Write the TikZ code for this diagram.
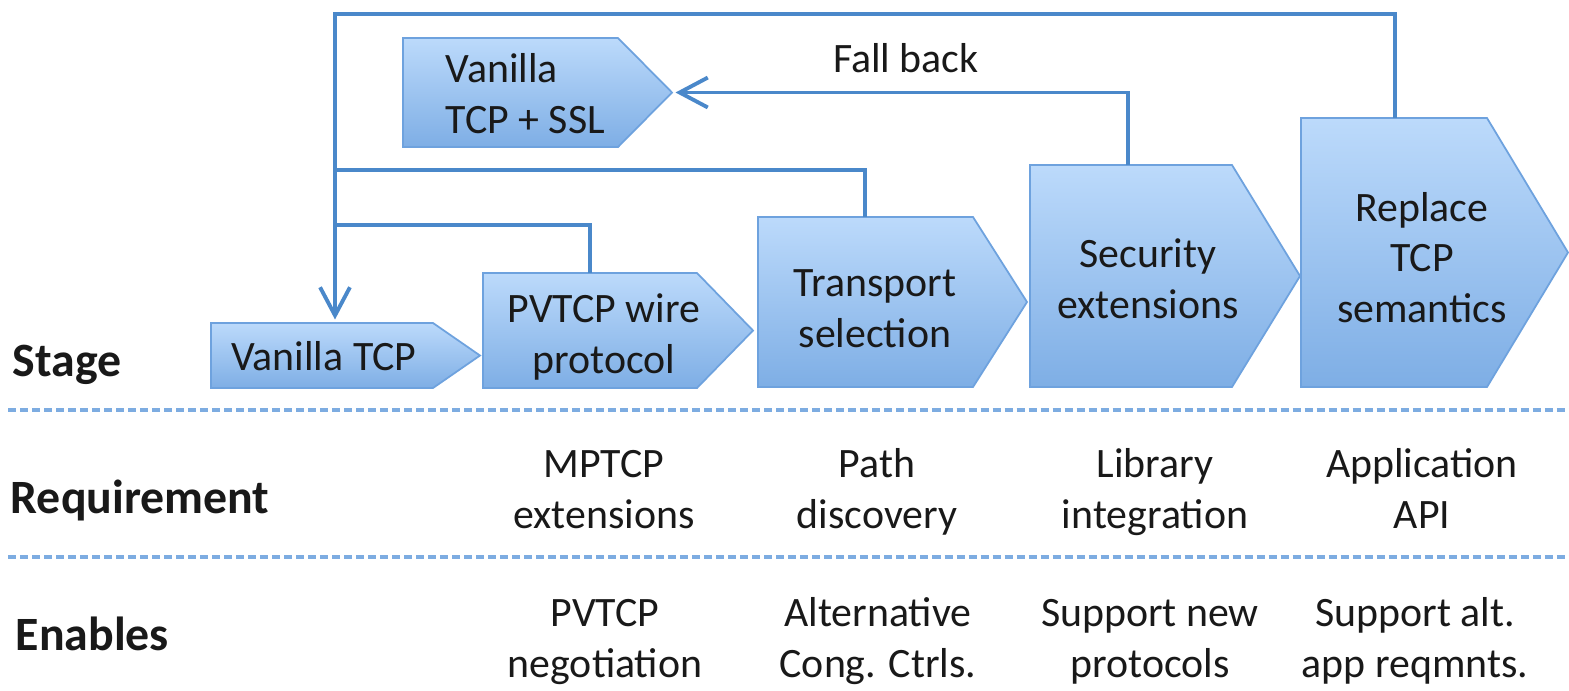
\documentclass[tikz,border=0pt]{standalone}
\usepackage{fontspec}
\setmainfont{Carlito}
\usetikzlibrary{arrows.meta,fit}

\definecolor{linkblue}{RGB}{74,136,202}
\definecolor{boxtop}{RGB}{188,218,251}
\definecolor{boxbottom}{RGB}{126,174,229}
\definecolor{boxedge}{RGB}{110,162,222}
\definecolor{rulerblue}{RGB}{125,172,225}
\definecolor{ink}{RGB}{25,25,25}

\tikzset{
  stagebox/.style={top color=boxtop, bottom color=boxbottom, draw=boxedge, line width=0.5pt},
  boxarea/.style={inner sep=0pt, outer sep=0pt},
  link/.style={draw=linkblue, line width=1.1pt},
  linkarrow/.style={link, -{Straight Barb[length=8pt,width=8.5pt]}, shorten >=1pt},
  ruler/.style={draw=rulerblue, line width=1pt, dash pattern=on 0.08cm off 0.04cm},
  label/.style={anchor=base, align=center, inner sep=0pt, text=ink,
                font=\fontsize{11.9}{14.3}\selectfont},
  rowhead/.style={anchor=base west, inner sep=0pt, text=ink,
                  font=\fontsize{13.6}{16}\selectfont\bfseries},
}

% #1 name, #2 left x, #3 start of the point, #4 tip x, #5 top y, #6 bottom y
\newcommand\stageshape[6]{%
  \path[stagebox] (#2,#5) -- (#3,#5) -- (#4,{(#5+#6)/2}) -- (#3,#6) -- (#2,#6) -- cycle;
  \node[boxarea, fit={(#2,#5) (#4,#6)}] (#1) {};
}

\begin{document}
\begin{tikzpicture}[x=0.01cm, y=-0.01cm]
  \useasboundingbox (0,0) rectangle (1569,690);
  \fill[white] (0,0) rectangle (1569,690);

  % stage arrows
  \stageshape{vt}{211}{433}{480}{323}{388}
  \stageshape{ssl}{403}{618}{672}{38}{147}
  \stageshape{pv}{483}{697}{753}{273}{388}
  \stageshape{ts}{758}{973}{1027}{217}{387}
  \stageshape{se}{1030}{1232}{1300}{165}{387}
  \stageshape{rp}{1301}{1487}{1568}{118}{387}

  % texts are placed by the baseline of their last line
  \node[label] (vtT) at (324,370) {Vanilla TCP};
  \node[label, align=left, anchor=base west] (sslT) at (445,133) {Vanilla\\TCP + SSL};
  \node[label] (pvT) at (604,373) {PVTCP wire\\protocol};
  \node[label] (tsT) at (875,347) {Transport\\selection};
  \node[label] (seT) at (1148,318) {Security\\extensions};
  \node[label] (rpT) at (1422,322) {Replace\\TCP\\semantics};

  % feedback connectors
  \coordinate (topR) at (1395,14);
  \coordinate (topL) at (335,14);
  \draw[linkarrow] (rp.north -| topR) -- (topR) -- (topL) -- (vt.north -| topL);

  \coordinate (tsJ) at (865,170);
  \coordinate (tsS) at (335,170);
  \draw[link] (ts.north -| tsJ) -- (tsJ) -- (tsS);

  \coordinate (pvJ) at (590,225);
  \coordinate (pvS) at (335,225);
  \draw[link] (pv.north -| pvJ) -- (pvJ) -- (pvS);

  \coordinate (fbJ) at (1128,92.5);
  \draw[linkarrow] (se.north -| fbJ) -- (fbJ) -- (ssl.east);
  \node[label] (fb) at (906,72) {Fall back};

  % row separators
  \draw[ruler] (8,410) -- (1569,410);
  \draw[ruler] (8,557) -- (1569,557);

  % row headings
  \node[rowhead] (hStage) at (12,376) {Stage};
  \node[rowhead] (hReq) at (10,513) {Requirement};
  \node[rowhead] (hEn) at (15,650) {Enables};

  % requirement row
  \node[label] (r1) at (604,528) {MPTCP\\extensions};
  \node[label] (r2) at (877,528) {Path\\discovery};
  \node[label] (r3) at (1155,528) {Library\\integration};
  \node[label] (r4) at (1422,528) {Application\\API};

  % enables row
  \node[label] (e1) at (605,677) {PVTCP\\negotiation};
  \node[label] (e2) at (878,677) {Alternative\\Cong. Ctrls.};
  \node[label] (e3) at (1150,677) {Support new\\protocols};
  \node[label] (e4) at (1415,677) {Support alt.\\app reqmnts.};
\end{tikzpicture}
\end{document}
